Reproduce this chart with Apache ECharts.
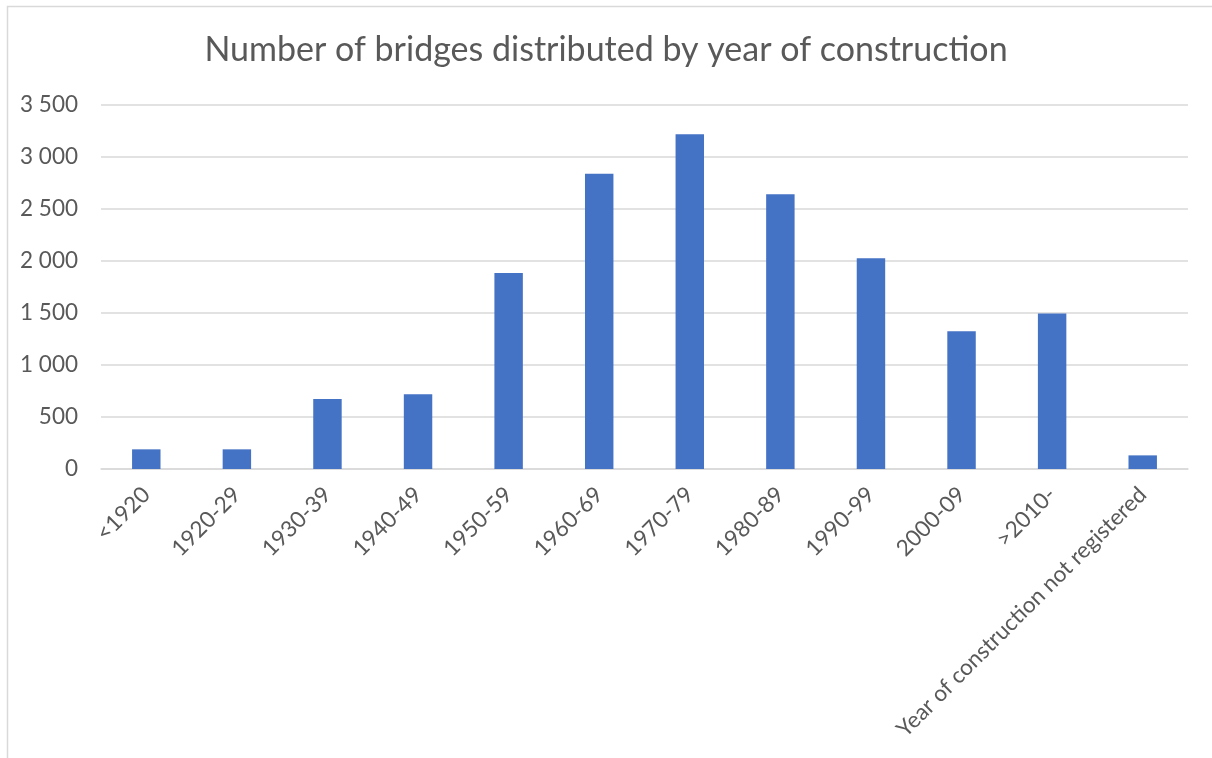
<!DOCTYPE html>
<html>
<head>
<meta charset="utf-8">
<script src="https://cdn.jsdelivr.net/npm/echarts@6/dist/echarts.min.js"></script>
<style>
  html, body { margin: 0; padding: 0; background: #fff; }
  #chart { width: 1212px; height: 758px; }
</style>
</head>
<body>
<div id="chart"></div>
<script>
// Construction periods and bridge counts per period
const categories = ['<1920', '1920-29', '1930-39', '1940-49', '1950-59', '1960-69',
  '1970-79', '1980-89', '1990-99', '2000-09', '>2010-', 'Year of construction not registered'];
const bridgeCounts = [189, 189, 673, 718, 1885, 2840, 3218, 2641, 2026, 1324, 1494, 131];
const yTicks = [0, 500, 1000, 1500, 2000, 2500, 3000, 3500];

const chart = echarts.init(document.getElementById('chart'), null, { renderer: 'canvas' });
const font = 'Lato, "Open Sans", sans-serif';

const fmt = v => String(v).replace(/\B(?=(\d{3})+(?!\d))/g, ' ');

chart.setOption({
  animation: false,
  backgroundColor: '#ffffff',
  title: {
    text: 'Number of bridges distributed by year of construction',
    left: 'center',
    top: 28,
    textStyle: { fontFamily: font, fontSize: 34, fontWeight: 'normal', color: '#595959' }
  },
  graphic: [{
    type: 'rect',
    shape: { x: 7.5, y: 6.5, width: 1300, height: 800 },
    style: { fill: 'none', stroke: '#d9d9d9', lineWidth: 1.5 },
    silent: true
  }],
  grid: { left: 101, right: 24, top: 105, bottom: 289, containLabel: false },
  xAxis: {
    type: 'category',
    data: categories,
    axisLine: { show: true, lineStyle: { color: '#d9d9d9', width: 1.5 } },
    axisTick: { show: false },
    axisLabel: {
      interval: 0,
      rotate: 45,
      margin: 22,
      fontFamily: font,
      fontSize: 22.5,
      color: '#595959'
    }
  },
  yAxis: {
    type: 'value',
    min: yTicks[0],
    max: yTicks[yTicks.length - 1],
    interval: 500,
    axisLine: { show: false },
    axisTick: { show: false },
    splitLine: { lineStyle: { color: '#d9d9d9', width: 1.5 } },
    axisLabel: {
      margin: 23,
      fontFamily: font,
      fontSize: 22.5,
      color: '#595959',
      formatter: fmt
    }
  },
  series: [{
    type: 'bar',
    data: bridgeCounts,
    barWidth: '31.4%',
    itemStyle: { color: '#4472C4' }
  }]
});
</script>
</body>
</html>
